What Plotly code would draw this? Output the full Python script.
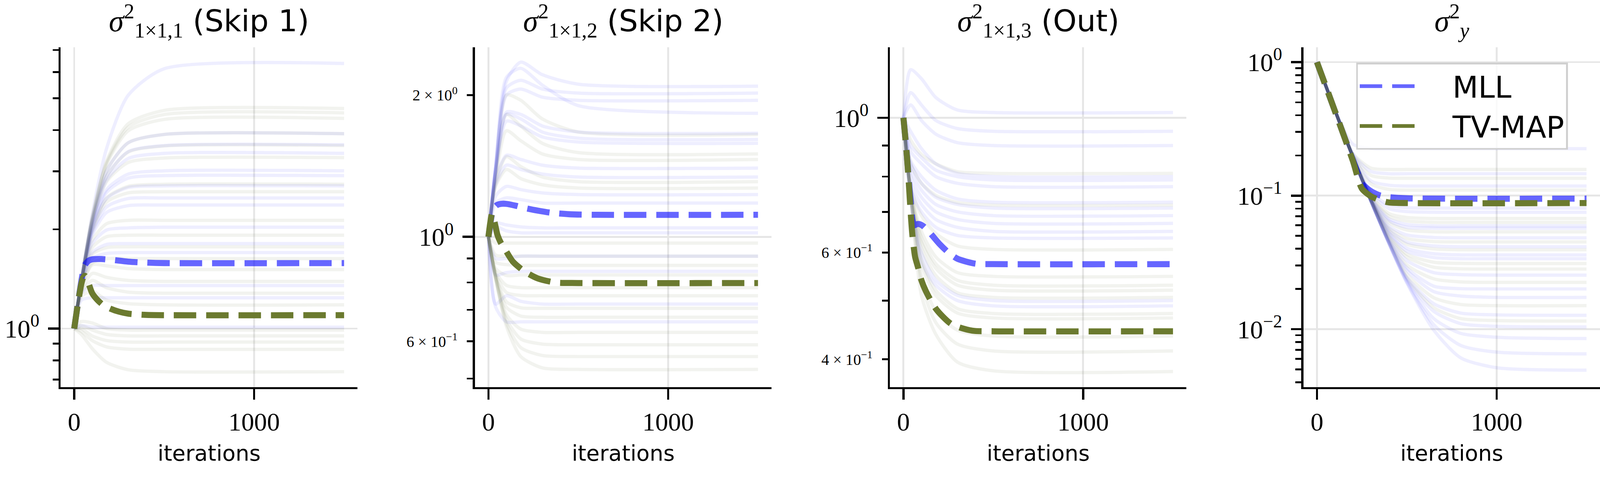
import plotly.graph_objects as go

W, H = 4349, 1267
SANS = "DejaVu Sans"
SERIF = "Liberation Serif"

MLL_COLOR = "rgba(0,0,255,0.6)"
TV_COLOR = "#6b7a2f"
MLL_FAINT = "rgba(0,0,255,0.065)"
TV_FAINT = "rgba(85,107,47,0.08)"

# ---------------- data ----------------
RUN_ITERS = [0, 40, 100, 180, 300, 500, 1500]
SIGY_RUN_ITERS = [0, 100, 200, 300, 400, 500, 650, 800, 1000, 1500]

# Panel 1: sigma^2_{1x1,1} (Skip 1)
skip1_mll_runs = [
    [1, 1.40, 2.22, 3.52, 5.10, 6.14, 6.37],
    [1, 1.40, 2.13, 3.01, 3.66, 3.88, 3.90],
    [1, 1.40, 2.11, 2.90, 3.44, 3.59, 3.61],
    [1, 1.39, 2.09, 2.82, 3.28, 3.40, 3.40],
    [1, 1.39, 2.04, 2.64, 2.94, 3.01, 3.01],
    [1, 1.39, 2.03, 2.59, 2.86, 2.91, 2.91],
    [1, 1.39, 2.00, 2.48, 2.68, 2.71, 2.71],
    [1, 1.38, 1.95, 2.34, 2.48, 2.49, 2.49],
    [1, 1.38, 1.92, 2.25, 2.36, 2.37, 2.37],
    [1, 1.37, 1.81, 1.99, 2.02, 2.03, 2.03],
    [1, 1.36, 1.70, 1.80, 1.81, 1.81, 1.81],
    [1, 1.35, 1.63, 1.69, 1.70, 1.70, 1.70],
    [1, 1.28, 1.35, 1.35, 1.35, 1.35, 1.35],
    [1, 1.22, 1.24, 1.24, 1.24, 1.24, 1.24],
    [1, 1.02, 1.01, 1.01, 1.01, 1.01, 1.01],
]
skip1_tvmap_runs = [
    [1, 1.40, 2.17, 3.22, 4.18, 4.59, 4.65],
    [1, 1.40, 2.16, 3.18, 4.08, 4.46, 4.51],
    [1, 1.40, 2.16, 3.15, 3.98, 4.31, 4.34],
    [1, 1.40, 2.13, 3.01, 3.66, 3.88, 3.90],
    [1, 1.40, 2.11, 2.89, 3.43, 3.58, 3.59],
    [1, 1.39, 2.08, 2.79, 3.19, 3.29, 3.30],
    [1, 1.39, 2.00, 2.49, 2.70, 2.74, 2.74],
    [1, 1.39, 1.97, 2.42, 2.58, 2.60, 2.60],
    [1, 1.38, 1.85, 2.08, 2.13, 2.13, 2.13],
    [1, 1.37, 1.76, 1.90, 1.92, 1.92, 1.92],
    [1, 1.36, 1.68, 1.76, 1.77, 1.77, 1.77],
    [1, 1.34, 1.58, 1.63, 1.63, 1.63, 1.63],
    [1, 1.32, 1.56, 1.55, 1.52, 1.51, 1.51],
    [1, 1.30, 1.47, 1.43, 1.40, 1.39, 1.39],
    [1, 1.28, 1.40, 1.33, 1.29, 1.28, 1.28],
    [1, 1.25, 1.30, 1.22, 1.19, 1.18, 1.18],
    [1, 1.05, 1.04, 1.00, 0.99, 0.99, 0.99],
    [1, 1.02, 0.99, 0.96, 0.95, 0.95, 0.95],
    [1, 1.00, 0.95, 0.92, 0.91, 0.91, 0.91],
    [1, 0.98, 0.92, 0.88, 0.866, 0.865, 0.865],
    [1, 0.96, 0.87, 0.79, 0.75, 0.74, 0.74],
]
skip1_mll_iters = [0, 10, 20, 30, 40, 50, 60, 80, 100, 150, 200, 300, 400, 500, 1500]
skip1_mll = [1, 1.089, 1.186, 1.29, 1.396, 1.496, 1.56, 1.607, 1.622, 1.625, 1.618, 1.596, 1.585, 1.58, 1.58]
skip1_tvmap_iters = [0, 10, 20, 30, 40, 50, 60, 80, 100, 130, 160, 200, 250, 300, 400, 500, 1500]
skip1_tvmap = [1, 1.089, 1.186, 1.28, 1.37, 1.43, 1.445, 1.37, 1.28, 1.22, 1.18, 1.15, 1.125, 1.11, 1.10, 1.098, 1.098]

# Panel 2: sigma^2_{1x1,2} (Skip 2)
skip2_mll_runs = [
    [1, 1.41, 2.14, 2.35, 2.21, 2.11, 2.09],
    [1, 1.40, 2.07, 2.15, 2.06, 2.02, 2.02],
    [1, 1.40, 2.00, 2.06, 1.98, 1.95, 1.95],
    [1, 1.41, 2.18, 2.28, 2.10, 1.90, 1.83],
    [1, 1.38, 1.84, 1.82, 1.72, 1.67, 1.66],
    [1, 1.38, 1.82, 1.78, 1.67, 1.62, 1.61],
    [1, 1.37, 1.76, 1.72, 1.63, 1.59, 1.58],
    [1, 1.32, 1.49, 1.46, 1.42, 1.40, 1.40],
    [1, 1.29, 1.42, 1.39, 1.36, 1.34, 1.34],
    [1, 1.22, 1.28, 1.26, 1.24, 1.23, 1.23],
    [1, 1.18, 1.21, 1.20, 1.18, 1.18, 1.18],
    [1, 1.07, 1.06, 1.05, 1.045, 1.045, 1.045],
    [1, 1.05, 1.03, 1.02, 1.02, 1.02, 1.02],
    [1, 0.90, 0.90, 0.91, 0.91, 0.91, 0.91],
    [1, 0.83, 0.84, 0.845, 0.845, 0.845, 0.845],
    [1, 0.72, 0.75, 0.73, 0.72, 0.72, 0.72],
    [1, 0.71, 0.66, 0.66, 0.66, 0.66, 0.66],
]
skip2_tvmap_runs = [
    [1, 1.38, 2.00, 1.95, 1.78, 1.67, 1.65],
    [1, 1.36, 1.82, 1.72, 1.58, 1.51, 1.50],
    [1, 1.33, 1.68, 1.60, 1.50, 1.46, 1.46],
    [1, 1.30, 1.48, 1.41, 1.34, 1.31, 1.31],
    [1, 1.28, 1.39, 1.33, 1.29, 1.27, 1.27],
    [1, 0.97, 0.97, 0.97, 0.97, 0.97, 0.97],
    [1, 0.915, 0.91, 0.91, 0.91, 0.91, 0.91],
    [1, 0.883, 0.873, 0.87, 0.87, 0.87, 0.87],
    [1, 0.857, 0.828, 0.83, 0.83, 0.83, 0.83],
    [1, 0.843, 0.789, 0.78, 0.78, 0.78, 0.78],
    [1, 0.835, 0.762, 0.751, 0.75, 0.75, 0.75],
    [1, 0.828, 0.728, 0.707, 0.705, 0.705, 0.705],
    [1, 0.824, 0.709, 0.679, 0.675, 0.675, 0.675],
    [1, 0.82, 0.684, 0.637, 0.627, 0.627, 0.627],
    [1, 0.818, 0.669, 0.607, 0.592, 0.59, 0.59],
    [1, 0.817, 0.656, 0.582, 0.56, 0.557, 0.557],
    [1, 0.815, 0.646, 0.557, 0.527, 0.523, 0.523],
]
skip2_mll_iters = [0, 10, 20, 30, 50, 80, 100, 150, 200, 275, 350, 450, 600, 1500]
skip2_mll = [1, 1.06, 1.12, 1.15, 1.17, 1.176, 1.175, 1.165, 1.152, 1.137, 1.125, 1.117, 1.114, 1.114]
skip2_tvmap_iters = [0, 10, 20, 30, 40, 50, 70, 93, 136, 200, 275, 372, 500, 1500]
skip2_tvmap = [1, 1.07, 1.12, 1.09, 1.05, 1.01, 0.97, 0.94, 0.886, 0.845, 0.816, 0.80, 0.798, 0.798]

# Panel 3: sigma^2_{1x1,3} (Out)
out_mll_runs = [
    [1, 1.20, 1.16, 1.08, 1.03, 1.02, 1.02],
    [1, 1.10, 1.05, 0.99, 0.96, 0.95, 0.95],
    [1, 1.05, 0.99, 0.94, 0.91, 0.90, 0.90],
    [1, 0.95, 0.89, 0.84, 0.81, 0.80, 0.80],
    [1, 0.90, 0.86, 0.82, 0.80, 0.79, 0.79],
    [1, 0.88, 0.84, 0.80, 0.78, 0.77, 0.77],
    [1, 0.85, 0.80, 0.76, 0.735, 0.726, 0.726],
    [1, 0.84, 0.78, 0.74, 0.72, 0.71, 0.71],
    [1, 0.82, 0.76, 0.72, 0.70, 0.69, 0.69],
    [1, 0.80, 0.74, 0.70, 0.68, 0.67, 0.67],
    [1, 0.78, 0.72, 0.68, 0.66, 0.65, 0.65],
    [1, 0.76, 0.70, 0.66, 0.64, 0.634, 0.634],
    [1, 0.74, 0.60, 0.54, 0.51, 0.50, 0.50],
    [1, 0.74, 0.58, 0.53, 0.50, 0.49, 0.49],
]
out_tvmap_runs = [
    [1, 0.92, 0.87, 0.84, 0.815, 0.81, 0.81],
    [1, 0.84, 0.78, 0.745, 0.725, 0.718, 0.718],
    [1, 0.77, 0.69, 0.645, 0.615, 0.607, 0.607],
    [1, 0.76, 0.65, 0.59, 0.556, 0.548, 0.548],
    [1, 0.76, 0.635, 0.575, 0.54, 0.53, 0.53],
    [1, 0.755, 0.625, 0.565, 0.53, 0.52, 0.52],
    [1, 0.755, 0.61, 0.55, 0.515, 0.506, 0.506],
    [1, 0.75, 0.585, 0.52, 0.485, 0.476, 0.476],
    [1, 0.75, 0.575, 0.51, 0.477, 0.468, 0.468],
    [1, 0.745, 0.55, 0.48, 0.447, 0.437, 0.437],
    [1, 0.745, 0.535, 0.46, 0.424, 0.413, 0.413],
    [1, 0.74, 0.51, 0.44, 0.396, 0.383, 0.382],
]
out_mll_iters = [0, 10, 20, 30, 40, 50, 60, 75, 90, 110, 150, 200, 250, 300, 400, 500, 1500]
out_mll = [1, 0.93, 0.86, 0.79, 0.73, 0.68, 0.665, 0.668, 0.668, 0.663, 0.645, 0.62, 0.60, 0.586, 0.575, 0.574, 0.574]
out_tvmap_iters = [0, 10, 20, 30, 40, 50, 65, 82, 100, 125, 182, 268, 383, 500, 1500]
out_tvmap = [1, 0.93, 0.86, 0.78, 0.70, 0.64, 0.59, 0.566, 0.54, 0.518, 0.484, 0.457, 0.446, 0.445, 0.445]

# Panel 4: sigma^2_y
sigy_mll_runs = [
    [1, .437, .243, .226, .225, .225, .225, .225, .225, .225],
    [1, .437, .205, .152, .146, .146, .146, .146, .146, .146],
    [1, .437, .200, .129, .1197, .118, .118, .118, .118, .118],
    [1, .437, .196, .106, .0851, .0813, .0806, .0806, .0806, .0806],
    [1, .437, .196, .104, .0800, .0760, .0751, .075, .075, .075],
    [1, .437, .195, .0973, .0671, .0608, .0593, .0593, .0593, .0593],
    [1, .437, .195, .0960, .0650, .0580, .0571, .057, .057, .057],
    [1, .437, .195, .0935, .0593, .0508, .0486, .0483, .0483, .0483],
    [1, .437, .195, .0938, .0558, .0449, .0420, .0414, .0414, .0414],
    [1, .437, .195, .0934, .0530, .0405, .0367, .0360, .036, .036],
    [1, .437, .195, .0933, .0519, .0384, .0344, .0337, .0337, .0337],
    [1, .437, .195, .0922, .0482, .0327, .0265, .0256, .0254, .0254],
    [1, .437, .195, .0918, .0463, .0288, .0210, .0201, .0200, .0200],
    [1, .437, .195, .0917, .0458, .0276, .0191, .0177, .0173, .0173],
    [1, .437, .195, .0914, .0449, .0245, .0155, .0132, .0128, .0127],
    [1, .437, .195, .0912, .0446, .0236, .0136, .0110, .0105, .0104],
    [1, .437, .195, .0912, .0443, .0230, .0120, .0093, .0087, .0085],
    [1, .437, .195, .0912, .0440, .0225, .0108, .00755, .00673, .00653],
    [1, .437, .195, .0912, .0438, .0222, .00984, .0061, .00514, .00493],
]
sigy_tvmap_runs = [
    [1, .437, .207, .161, .157, .157, .157, .157, .157, .157],
    [1, .437, .201, .142, .1355, .135, .135, .135, .135, .135],
    [1, .437, .198, .123, .1114, .110, .110, .110, .110, .110],
    [1, .437, .196, .1005, .0735, .0686, .0674, .0674, .0674, .0674],
    [1, .437, .195, .0988, .0702, .0646, .0631, .063, .063, .063],
    [1, .437, .195, .0946, .0630, .0553, .0536, .0535, .0535, .0535],
    [1, .437, .195, .0936, .0575, .0478, .0453, .0450, .045, .045],
    [1, .437, .195, .0935, .0547, .0433, .0399, .0393, .0393, .0393],
    [1, .437, .195, .0930, .0505, .0365, .0317, .0311, .031, .031],
    [1, .437, .195, .0925, .0493, .0347, .0291, .0283, .0282, .0282],
    [1, .437, .195, .0920, .0470, .0303, .0238, .0226, .0224, .0224],
    [1, .437, .195, .0915, .0453, .0258, .0172, .0153, .0150, .0150],
    [1, .437, .195, .0916, .0447, .0241, .0145, .0120, .0116, .0115],
]
sigy_mll_iters = [0, 100, 200, 250, 300, 350, 400, 500, 1500]
sigy_mll = [1, 0.43, 0.185, 0.124, 0.108, 0.1005, 0.0975, 0.0955, 0.095]
sigy_tvmap_iters = [0, 100, 200, 250, 300, 350, 400, 500, 1500]
sigy_tvmap = [1, 0.43, 0.182, 0.113, 0.099, 0.0925, 0.089, 0.088, 0.088]

series_names = ["\u00a0\u00a0\u00a0MLL", "\u00a0\u00a0\u00a0TV-MAP"]

titles = [
    '<span style="font-family:Liberation Serif"><i>σ</i><sup>2</sup><sub>1×1,1</sub></span> (Skip 1)',
    '<span style="font-family:Liberation Serif"><i>σ</i><sup>2</sup><sub>1×1,2</sub></span> (Skip 2)',
    '<span style="font-family:Liberation Serif"><i>σ</i><sup>2</sup><sub>1×1,3</sub></span> (Out)',
    '<span style="font-family:Liberation Serif"><i>σ</i><sup>2</sup><sub><i>y</i></sub></span>',
]
x_ticks = [0, 1000]
x_ticktext = ["0", "1000"]

y_major_ticks = [[1], [1], [1], [1, 0.1, 0.01]]
y_major_text = [
    ["10<sup>0</sup>"],
    ["10<sup>0</sup>"],
    ["10<sup>0</sup>"],
    ["10<sup>0</sup>", "10<sup>−1</sup>", "10<sup>−2</sup>"],
]
y_minor_ticks = [
    [0.7, 0.8, 0.9, 2, 3, 4, 5, 6, 7],
    [0.5, 0.6, 0.7, 0.8, 0.9, 2],
    [0.4, 0.5, 0.6, 0.7, 0.8, 0.9],
    [0.004, 0.005, 0.006, 0.007, 0.008, 0.009,
     0.02, 0.03, 0.04, 0.05, 0.06, 0.07, 0.08, 0.09,
     0.2, 0.3, 0.4, 0.5, 0.6, 0.7, 0.8, 0.9],
]
# labelled minor ticks (panel number -> values, labels)
y_minor_labelled = {
    2: ([2, 0.6], ["2 × 10<sup>0</sup>", "6 × 10<sup>−1</sup>"]),
    3: ([0.6, 0.4], ["6 × 10<sup>−1</sup>", "4 × 10<sup>−1</sup>"]),
}
y_ranges_log10 = [[-0.1775, 0.8538], [-0.319, 0.403], [-0.4436, 0.1164], [-2.434, 0.1127]]
x_range = [-75, 1575]

# ---------------- layout geometry ----------------
x_domains = [[165 / W, 972 / W], [1291 / W, 2097 / W], [2419 / W, 3225 / W], [3543 / W, 1.0]]
y_domain = [(H - 1052) / H, (H - 128) / H]

panels = [
    (skip1_mll_runs, skip1_tvmap_runs, RUN_ITERS, skip1_mll_iters, skip1_mll, skip1_tvmap_iters, skip1_tvmap),
    (skip2_mll_runs, skip2_tvmap_runs, RUN_ITERS, skip2_mll_iters, skip2_mll, skip2_tvmap_iters, skip2_tvmap),
    (out_mll_runs, out_tvmap_runs, RUN_ITERS, out_mll_iters, out_mll, out_tvmap_iters, out_tvmap),
    (sigy_mll_runs, sigy_tvmap_runs, SIGY_RUN_ITERS, sigy_mll_iters, sigy_mll, sigy_tvmap_iters, sigy_tvmap),
]

fig = go.Figure()

for i, (mruns, truns, riters, mit, mv, tit, tv) in enumerate(panels):
    xa = "x" if i == 0 else f"x{i+1}"
    ya = "y" if i == 0 else f"y{i+1}"
    for run in mruns:
        fig.add_trace(go.Scatter(x=riters, y=run, mode="lines", xaxis=xa, yaxis=ya,
                                 line=dict(color=MLL_FAINT, width=9, shape="spline", smoothing=0.7),
                                 showlegend=False, hoverinfo="skip"))
    for run in truns:
        fig.add_trace(go.Scatter(x=riters, y=run, mode="lines", xaxis=xa, yaxis=ya,
                                 line=dict(color=TV_FAINT, width=9, shape="spline", smoothing=0.7),
                                 showlegend=False, hoverinfo="skip"))
    fig.add_trace(go.Scatter(x=mit, y=mv, mode="lines", xaxis=xa, yaxis=ya, name=series_names[0],
                             legendgroup="mll", showlegend=(i == 3),
                             line=dict(color=MLL_COLOR, width=16.5, dash="61px,27px",
                                       shape="spline", smoothing=0.7)))
    fig.add_trace(go.Scatter(x=tit, y=tv, mode="lines", xaxis=xa, yaxis=ya, name=series_names[1],
                             legendgroup="tv", showlegend=(i == 3),
                             line=dict(color=TV_COLOR, width=16.5, dash="61px,27px",
                                       shape="spline", smoothing=0.7)))

# empty placeholder traces so the overlay axes carrying the labelled minor ticks get drawn
extra = 5
for pidx in y_minor_labelled:
    fig.add_trace(go.Scatter(x=[], y=[], xaxis=f"x{pidx}", yaxis=f"y{extra}",
                             showlegend=False, hoverinfo="skip"))
    extra += 1

layout = dict(
    width=W, height=H,
    margin=dict(l=0, r=0, t=0, b=0),
    paper_bgcolor="white", plot_bgcolor="rgba(0,0,0,0)",
    font=dict(family=SANS, color="black"),
    legend=dict(x=3686 / W, y=(H - 170) / H, xanchor="left", yanchor="top",
                font=dict(family=SANS, size=81), bgcolor="rgba(255,255,255,0.8)",
                bordercolor="#d0d0d0", borderwidth=5, itemwidth=170,
                tracegroupgap=0),
    annotations=[],
)

for i in range(4):
    xk = "xaxis" if i == 0 else f"xaxis{i+1}"
    yk = "yaxis" if i == 0 else f"yaxis{i+1}"
    ya = "y" if i == 0 else f"y{i+1}"
    xa = "x" if i == 0 else f"x{i+1}"
    layout[xk] = dict(
        domain=x_domains[i], range=x_range, anchor=ya,
        tickmode="array", tickvals=x_ticks, ticktext=x_ticktext,
        ticks="outside", ticklen=28, tickwidth=6, tickcolor="black",
        showline=True, linewidth=6, linecolor="black",
        showgrid=True, gridcolor="#e6e6e6", gridwidth=5, zeroline=False,
        tickfont=dict(family=SERIF, size=70),
        title=dict(text="iterations", font=dict(family=SANS, size=59), standoff=28),
        automargin=False,
    )
    layout[yk] = dict(
        domain=y_domain, type="log", range=y_ranges_log10[i], anchor=xa,
        tickmode="array", tickvals=y_major_ticks[i], ticktext=y_major_text[i],
        ticks="outside", ticklen=28, tickwidth=6, tickcolor="black",
        showline=True, linewidth=6, linecolor="black",
        showgrid=True, gridcolor="#e6e6e6", gridwidth=5, zeroline=False,
        tickfont=dict(family=SERIF, size=70), ticklabelstandoff=10,
        minor=dict(tickmode="array", tickvals=y_minor_ticks[i], ticks="outside",
                   ticklen=16, tickwidth=5, tickcolor="black", showgrid=False),
        automargin=False,
    )
    layout["annotations"].append(dict(
        text=titles[i], xref="paper", yref="paper",
        x=(x_domains[i][0] + x_domains[i][1]) / 2, y=(H - 116) / H,
        xanchor="center", yanchor="bottom", showarrow=False,
        font=dict(family=SANS, size=82, color="black"),
    ))

extra = 5
for pidx, (vals, labels) in y_minor_labelled.items():
    layout[f"yaxis{extra}"] = dict(
        overlaying=f"y{pidx}", anchor=f"x{pidx}", side="left", type="log",
        range=y_ranges_log10[pidx - 1], domain=y_domain,
        tickmode="array", tickvals=vals, ticktext=labels,
        ticks="outside", ticklen=16, tickwidth=5, tickcolor="black",
        showline=False, showgrid=False, zeroline=False,
        tickfont=dict(family=SERIF, size=42), ticklabelstandoff=22,
        automargin=False,
    )
    extra += 1

fig.update_layout(**layout)

# fit the fixed-size figure to the actual viewport (no page margin, no scrollbars)
fit_js = """
var gd = document.getElementById('{plot_id}');
document.documentElement.style.margin = '0';
document.body.style.margin = '0';
document.body.style.overflow = 'hidden';
var s = Math.min(window.innerWidth / %d, window.innerHeight / %d);
if (s > 0 && Math.abs(s - 1) > 0.002) {
  gd.style.transformOrigin = '0 0';
  gd.style.transform = 'scale(' + s + ')';
}
""" % (W, H)

fig.write_html("out.html", post_script=fit_js, config={"displayModeBar": False})
